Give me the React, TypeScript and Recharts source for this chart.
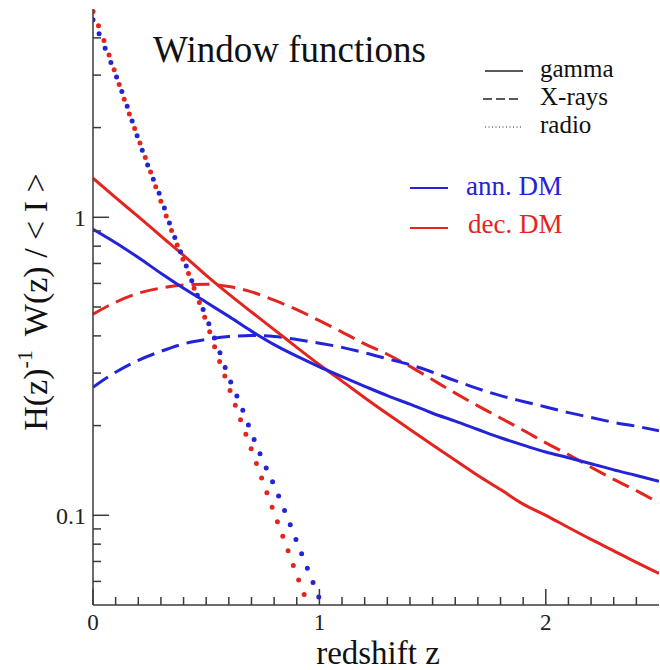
import { LineChart, Line, XAxis, YAxis } from 'recharts'

const BLUE = '#2323d8'
const RED = '#e4251f'
const FRAME = '#3a3a3a'
const FONT = '"Liberation Serif", "Times New Roman", serif'

// redshift grid for gamma / X-ray curves
const zGrid = [0, 0.1, 0.2, 0.3, 0.4, 0.5, 0.6, 0.7, 0.8, 0.9, 1.0, 1.1, 1.2, 1.3, 1.4, 1.5, 1.6, 1.7, 1.8, 1.9, 2.0, 2.1, 2.2, 2.3, 2.4, 2.5]
const annGamma = [0.912, 0.822, 0.733, 0.649, 0.578, 0.519, 0.465, 0.415, 0.374, 0.342, 0.315, 0.292, 0.271, 0.252, 0.236, 0.22, 0.207, 0.194, 0.182, 0.172, 0.163, 0.156, 0.149, 0.142, 0.136, 0.13]
const decGamma = [1.352, 1.164, 1.005, 0.865, 0.745, 0.638, 0.552, 0.481, 0.42, 0.366, 0.32, 0.282, 0.248, 0.219, 0.194, 0.172, 0.153, 0.136, 0.122, 0.109, 0.1, 0.091, 0.083, 0.076, 0.0695, 0.0638]
const annXray = [0.269, 0.302, 0.331, 0.355, 0.376, 0.389, 0.398, 0.401, 0.398, 0.389, 0.378, 0.366, 0.351, 0.335, 0.32, 0.302, 0.283, 0.266, 0.252, 0.241, 0.231, 0.221, 0.213, 0.205, 0.199, 0.192]
const decXray = [0.473, 0.519, 0.556, 0.579, 0.593, 0.596, 0.586, 0.562, 0.527, 0.49, 0.45, 0.412, 0.376, 0.347, 0.316, 0.285, 0.257, 0.233, 0.212, 0.193, 0.175, 0.16, 0.145, 0.132, 0.121, 0.11]

// radio curves drop fast, finer grid
const zRadio = [0, 0.05, 0.1, 0.15, 0.2, 0.25, 0.3, 0.35, 0.4, 0.45, 0.5, 0.55, 0.6, 0.65, 0.7, 0.75, 0.8, 0.85, 0.9, 0.95, 1.0, 1.05]
const annRadio = [4.6, 3.75, 3.01, 2.37, 1.83, 1.44, 1.16, 0.9, 0.724, 0.575, 0.462, 0.37, 0.29, 0.237, 0.189, 0.153, 0.126, 0.102, 0.0817, 0.0655, 0.0525, 0.042]
const decRadio = [4.9, 3.89, 3.02, 2.34, 1.84, 1.45, 1.13, 0.89, 0.714, 0.569, 0.447, 0.344, 0.269, 0.211, 0.166, 0.13, 0.102, 0.0804, 0.063, 0.0501, 0.0398, 0.0316]

const xTicks = [0, 0.1, 0.2, 0.3, 0.4, 0.5, 0.6, 0.7, 0.8, 0.9, 1, 1.1, 1.2, 1.3, 1.4, 1.5, 1.6, 1.7, 1.8, 1.9, 2, 2.1, 2.2, 2.3, 2.4]
const yTicks = [0.06, 0.07, 0.08, 0.09, 0.1, 0.2, 0.3, 0.4, 0.5, 0.6, 0.7, 0.8, 0.9, 1, 2, 3, 4]
const yLabels = [0.1, 1]

const toPoints = (zs: number[], vs: number[]) => zs.map((z, i) => ({ z, v: vs[i] }))

const isMajorX = (v: number) => Number.isInteger(v)
const isMajorY = (v: number) => yLabels.includes(v)

const BottomTick = ({ x, y, payload }: any) => {
  const major = isMajorX(payload.value)
  return (
    <g>
      <line x1={x} y1={y} x2={x} y2={y - (major ? 16 : 8)} stroke={FRAME} strokeWidth={1.5} />
      {major && (
        <text x={x} y={y + 25} textAnchor="middle" fontFamily={FONT} fontSize={23} fill="#222">
          {payload.value}
        </text>
      )}
    </g>
  )
}

const TopTick = ({ x, y, payload }: any) => (
  <line x1={x} y1={y} x2={x} y2={y + (isMajorX(payload.value) ? 16 : 8)} stroke={FRAME} strokeWidth={1.5} />
)

const LeftTick = ({ x, y, payload }: any) => {
  const major = isMajorY(payload.value)
  return (
    <g>
      <line x1={x} y1={y} x2={x + (major ? 16 : 8)} y2={y} stroke={FRAME} strokeWidth={1.5} />
      {major && (
        <text x={x - 7} y={y + 9} textAnchor="end" fontFamily={FONT} fontSize={24} fill="#222">
          {payload.value}
        </text>
      )}
    </g>
  )
}

const RightTick = ({ x, y, payload }: any) => (
  <line x1={x} y1={y} x2={x - (isMajorY(payload.value) ? 16 : 8)} y2={y} stroke={FRAME} strokeWidth={1.5} />
)

export default function App() {
  return (
    <div style={{ position: 'absolute', left: 0, top: 0, width: 660, height: 670, background: '#fff' }}>
      <LineChart width={660} height={670} margin={{ top: 9, right: 1, left: 0, bottom: 0 }}>
        <XAxis
          xAxisId={0}
          dataKey="z"
          type="number"
          domain={[0, 2.5]}
          allowDataOverflow
          ticks={xTicks}
          interval={0}
          height={65}
          tickSize={0}
          tickMargin={0}
          tickLine={false}
          tick={BottomTick}
          axisLine={{ stroke: FRAME, strokeWidth: 1.5 }}
        />
        <XAxis
          xAxisId="top"
          orientation="top"
          dataKey="z"
          type="number"
          domain={[0, 2.5]}
          allowDataOverflow
          ticks={xTicks}
          interval={0}
          height={0}
          tickSize={0}
          tickMargin={0}
          tickLine={false}
          tick={TopTick}
          axisLine={{ stroke: FRAME, strokeWidth: 1.5 }}
        />
        <YAxis
          yAxisId={0}
          type="number"
          scale="log"
          domain={[0.05, 5]}
          allowDataOverflow
          ticks={yTicks}
          interval={0}
          width={93}
          tickSize={0}
          tickMargin={0}
          tickLine={false}
          tick={LeftTick}
          axisLine={{ stroke: FRAME, strokeWidth: 1.5 }}
        />
        <YAxis
          yAxisId="right"
          orientation="right"
          type="number"
          scale="log"
          domain={[0.05, 5]}
          allowDataOverflow
          ticks={yTicks}
          interval={0}
          width={0}
          tickSize={0}
          tickMargin={0}
          tickLine={false}
          tick={RightTick}
          axisLine={{ stroke: FRAME, strokeWidth: 1.5 }}
        />
        <Line data={toPoints(zGrid, decXray)} dataKey="v" type="monotone" stroke={RED} strokeWidth={3} strokeDasharray="18 8" dot={false} isAnimationActive={false} />
        <Line data={toPoints(zGrid, annXray)} dataKey="v" type="monotone" stroke={BLUE} strokeWidth={3} strokeDasharray="18 8" dot={false} isAnimationActive={false} />
        <Line data={toPoints(zGrid, decGamma)} dataKey="v" type="monotone" stroke={RED} strokeWidth={3} dot={false} isAnimationActive={false} />
        <Line data={toPoints(zGrid, annGamma)} dataKey="v" type="monotone" stroke={BLUE} strokeWidth={3} dot={false} isAnimationActive={false} />
        <Line data={toPoints(zRadio, decRadio)} dataKey="v" type="monotone" stroke={RED} strokeWidth={5} strokeLinecap="round" strokeDasharray="0 15.5" dot={false} isAnimationActive={false} />
        <Line data={toPoints(zRadio, annRadio)} dataKey="v" type="monotone" stroke={BLUE} strokeWidth={5} strokeLinecap="round" strokeDasharray="0 15.5" dot={false} isAnimationActive={false} />
      </LineChart>
      <svg width={660} height={670} style={{ position: 'absolute', left: 0, top: 0, pointerEvents: 'none' }}>
        <g fontFamily={FONT} fill="#111">
          <text x={153} y={62} fontSize={37}>Window functions</text>

          <line x1={485} y1={71} x2={523} y2={71} stroke="#222" strokeWidth={1.5} />
          <text x={540} y={77} fontSize={25}>gamma</text>
          <line x1={483} y1={99} x2={522} y2={99} stroke="#222" strokeWidth={1.5} strokeDasharray="9 4" />
          <text x={540} y={105} fontSize={25}>X-rays</text>
          <line x1={485} y1={127} x2={522} y2={127} stroke="#222" strokeWidth={1.2} strokeDasharray="1 2.5" />
          <text x={540} y={133} fontSize={25}>radio</text>

          <line x1={410} y1={188} x2={448} y2={188} stroke={BLUE} strokeWidth={2} />
          <text x={466} y={195} fontSize={27} fill={BLUE}>ann. DM</text>
          <line x1={410} y1={228} x2={448} y2={228} stroke={RED} strokeWidth={2} />
          <text x={468} y={233} fontSize={27} fill={RED}>dec. DM</text>

          <text x={378} y={664} fontSize={33} textAnchor="middle">redshift z</text>
          <text transform="translate(47, 302) rotate(-90)" fontSize={34} textAnchor="middle">
            H(z)<tspan fontSize={22} dy={-15}>-1</tspan>
            <tspan dy={15} dx={14}>W(z) / &lt; I &gt;</tspan>
          </text>
        </g>
      </svg>
    </div>
  )
}
